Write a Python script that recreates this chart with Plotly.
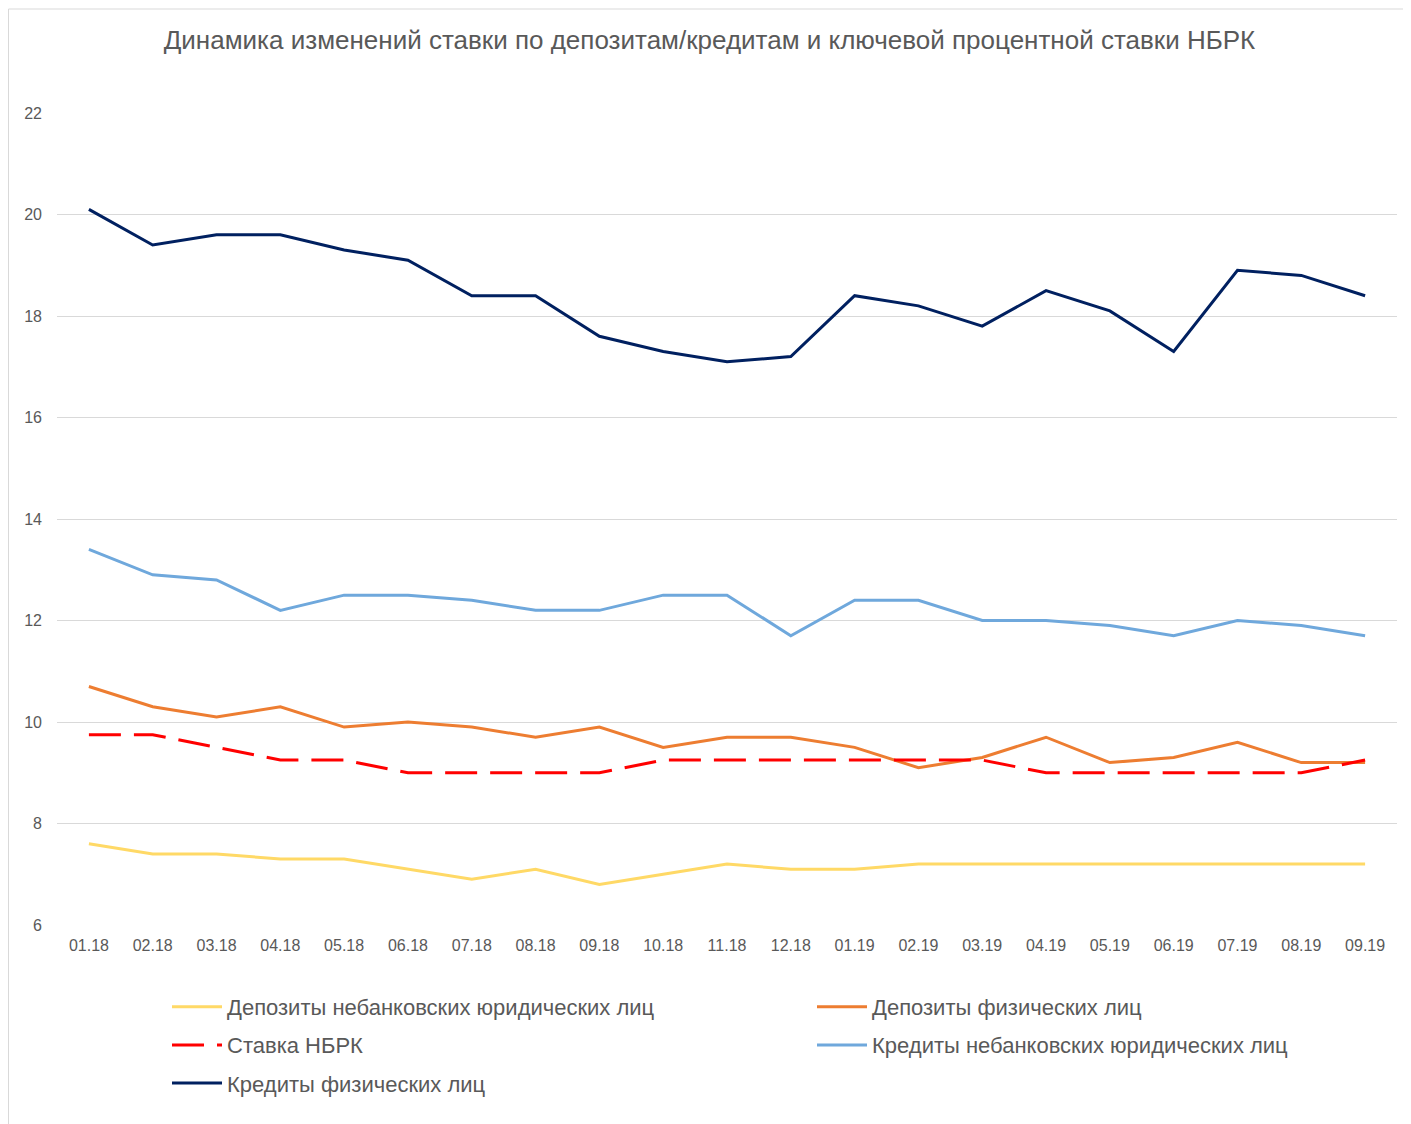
import plotly.graph_objects as go

months = ["01.18", "02.18", "03.18", "04.18", "05.18", "06.18", "07.18", "08.18", "09.18", "10.18",
          "11.18", "12.18", "01.19", "02.19", "03.19", "04.19", "05.19", "06.19", "07.19", "08.19", "09.19"]

dep_yur = [7.6, 7.4, 7.4, 7.3, 7.3, 7.1, 6.9, 7.1, 6.8, 7.0, 7.2, 7.1, 7.1, 7.2, 7.2, 7.2, 7.2, 7.2, 7.2, 7.2, 7.2]
dep_fiz = [10.7, 10.3, 10.1, 10.3, 9.9, 10.0, 9.9, 9.7, 9.9, 9.5, 9.7, 9.7, 9.5, 9.1, 9.3, 9.7, 9.2, 9.3, 9.6, 9.2, 9.2]
stavka = [9.75, 9.75, 9.5, 9.25, 9.25, 9.0, 9.0, 9.0, 9.0, 9.25, 9.25, 9.25, 9.25, 9.25, 9.25, 9.0, 9.0, 9.0, 9.0, 9.0, 9.25]
kred_yur = [13.4, 12.9, 12.8, 12.2, 12.5, 12.5, 12.4, 12.2, 12.2, 12.5, 12.5, 11.7, 12.4, 12.4, 12.0, 12.0, 11.9, 11.7, 12.0, 11.9, 11.7]
kred_fiz = [20.1, 19.4, 19.6, 19.6, 19.3, 19.1, 18.4, 18.4, 17.6, 17.3, 17.1, 17.2, 18.4, 18.2, 17.8, 18.5, 18.1, 17.3, 18.9, 18.8, 18.4]

names = ["Депозиты небанковских юридических лиц", "Депозиты физических лиц", "Ставка НБРК",
         "Кредиты небанковских юридических лиц", "Кредиты физических лиц"]
title = "Динамика изменений ставки по депозитам/кредитам и ключевой процентной ставки НБРК"

W, H = 1403, 1116
L, R, T, B = 49, 14, 105, 199

fig = go.Figure()
fig.add_trace(go.Scatter(x=months, y=dep_yur, name=names[0], mode="lines", legend="legend",
                         legendgroup="a", line=dict(color="#FFD966", width=3)))
fig.add_trace(go.Scatter(x=months, y=dep_fiz, name=names[1], mode="lines", legend="legend2",
                         legendgroup="b", line=dict(color="#ED7D31", width=3)))
fig.add_trace(go.Scatter(x=months, y=stavka, name=names[2], mode="lines", legend="legend",
                         legendgroup="c", line=dict(color="#FF0000", width=3, dash="32px,13px")))
fig.add_trace(go.Scatter(x=months, y=kred_yur, name=names[3], mode="lines", legend="legend2",
                         legendgroup="d", line=dict(color="#6FA8DC", width=3)))
fig.add_trace(go.Scatter(x=months, y=kred_fiz, name=names[4], mode="lines", legend="legend",
                         legendgroup="e", line=dict(color="#002060", width=3)))

pw = W - L - R
ph = H - T - B


def px_x(p):
    return (p - L) / pw


def px_y(p):
    return (H - B - p) / ph


fig.add_shape(type="rect", xref="paper", yref="paper",
              x0=px_x(0.5), x1=px_x(1460), y0=px_y(1160), y1=px_y(1),
              line=dict(color="#D9D9D9", width=1), fillcolor="rgba(0,0,0,0)", layer="below")

leg_common = dict(orientation="v", yanchor="top", xanchor="left", font=dict(size=22, color="#595959"),
                  tracegroupgap=6.5, itemwidth=50, bgcolor="rgba(0,0,0,0)", borderwidth=0)

fig.update_layout(
    width=W, height=H,
    margin=dict(l=L, r=R, t=T, b=B, autoexpand=False),
    paper_bgcolor="white", plot_bgcolor="white",
    font=dict(family="Liberation Sans, Arial, sans-serif", color="#595959"),
    title=dict(text=title, x=0.5, xref="container", xanchor="center", y=1 - 32 / H, yanchor="middle",
               font=dict(size=26, color="#595959")),
    showlegend=True,
    legend=dict(x=px_x(159), y=px_y(978), **leg_common),
    legend2=dict(x=px_x(804), y=px_y(978), **leg_common),
    xaxis=dict(type="category", range=[-0.5, 20.5], showgrid=False, showline=False, zeroline=False,
               ticks="", tickfont=dict(size=16, color="#595959"), ticklabelstandoff=9),
    yaxis=dict(range=[6, 22], tickvals=[6, 8, 10, 12, 14, 16, 18, 20, 22], showgrid=True,
               gridcolor="#D9D9D9", gridwidth=1, zeroline=False, showline=False, ticks="",
               tickfont=dict(size=16, color="#595959"), ticklabelstandoff=14),
)

fig.write_html("out.html")
